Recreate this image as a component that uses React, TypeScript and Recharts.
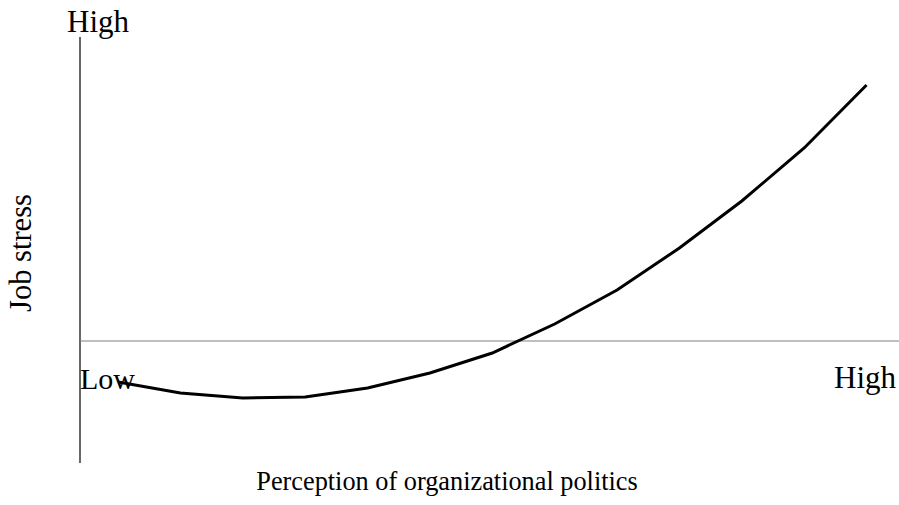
import React from 'react';
import { LineChart, Line, XAxis, YAxis, ReferenceLine, Customized } from 'recharts';

const politicsLevels = [0, 1, 2, 3, 4, 5, 6, 7, 8, 9, 10, 11, 12];
const stressValues = [-0.41, -0.52, -0.57, -0.56, -0.47, -0.32, -0.12, 0.17, 0.51, 0.93, 1.40, 1.93, 2.56];
const axisEndLabels = { low: 'Low', high: 'High' };
const xTitle = 'Perception of organizational politics';
const yTitle = 'Job stress';
const xDomain: [number, number] = [-0.61, 12.52];
const yDomain: [number, number] = [-1.22, 3.04];

const data = politicsLevels.map((x, i) => ({ x, y: stressValues[i] }));

const FONT = '"Liberation Serif", "Times New Roman", serif';

const Labels = () => (
  <g fontFamily={FONT} fill="#000">
    <text x={67} y={32} fontSize={31}>{axisEndLabels.high}</text>
    <text x={80} y={389} fontSize={30}>{axisEndLabels.low}</text>
    <text x={896} y={388} fontSize={31} textAnchor="end">{axisEndLabels.high}</text>
    <text x={447} y={490} fontSize={26.3} textAnchor="middle">{xTitle}</text>
    <text x={31} y={253} fontSize={30.5} textAnchor="middle" transform="rotate(-90 31 253)">{yTitle}</text>
  </g>
);

export default function App() {
  return (
    <div style={{ position: 'absolute', left: 0, top: 0, background: '#fff' }}>
      <LineChart width={899} height={505} data={data} margin={{ top: 37, right: 0, bottom: 42, left: 80 }}>
        <XAxis type="number" dataKey="x" domain={xDomain} hide />
        <YAxis type="number" domain={yDomain} hide />
        <ReferenceLine x={xDomain[0]} stroke="#000" strokeWidth={1.2} ifOverflow="visible" />
        <ReferenceLine y={0} stroke="#808080" strokeWidth={1} ifOverflow="visible" />
        <Line
          type="linear"
          dataKey="y"
          stroke="#000"
          strokeWidth={3}
          dot={false}
          isAnimationActive={false}
        />
        <Customized component={Labels} />
      </LineChart>
    </div>
  );
}
